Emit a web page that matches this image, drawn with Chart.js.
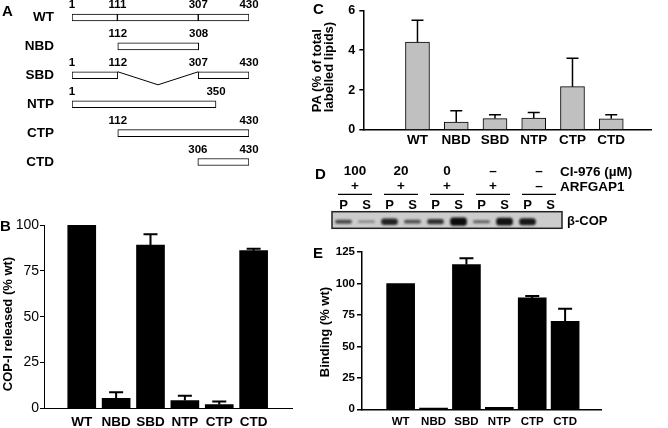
<!DOCTYPE html>
<html lang="en">
  <head>
    <meta charset="utf-8" />
    <title>ARFGAP1 domains</title>
    <style>
      body { margin: 0; background: #fff; }
      #fig {
        position: relative; width: 668px; height: 428px; overflow: hidden;
        font-family: "Liberation Sans", Arial, sans-serif; font-weight: bold; color: #000;
      }
      canvas { position: absolute; }
      .letter { position: absolute; font-size: 15px; line-height: 1; }
      .ytitle {
        position: absolute; font-size: 13px; line-height: 1; white-space: nowrap;
        transform: translate(-50%, -50%) rotate(-90deg);
      }
      .txt { position: absolute; font-size: 13.5px; line-height: 1; white-space: nowrap; transform: translateY(-50%); }
    </style>
  </head>
  <body>
    <div id="fig">
      <canvas id="cA" width="270" height="180" style="left:0px;top:0px"></canvas>
      <canvas id="cB" width="298" height="213" style="left:0px;top:215px"></canvas>
      <canvas id="cC" width="378" height="155" style="left:290px;top:0px"></canvas>
      <canvas id="cD" width="368" height="85" style="left:300px;top:155px"></canvas>
      <canvas id="cE" width="368" height="188" style="left:300px;top:240px"></canvas>

      <div class="letter" style="left:2px;top:3px">A</div>
      <div class="letter" style="left:0px;top:218px">B</div>
      <div class="letter" style="left:313px;top:1px">C</div>
      <div class="letter" style="left:315px;top:166px">D</div>
      <div class="letter" style="left:313px;top:245px">E</div>

      <div class="ytitle" style="left:7px;top:324px">COP-I released (% wt)</div>
      <div class="ytitle" style="left:322.5px;top:66.7px;line-height:11.7px;text-align:left">PA (% of total<br>labelled lipids)</div>
      <div class="ytitle" style="left:324px;top:332px">Binding (% wt)</div>

      <div class="txt" style="left:560px;top:172px">CI-976 (µM)</div>
      <div class="txt" style="left:560px;top:187px">ARFGAP1</div>
      <div class="txt" style="left:567px;top:220px;font-size:13px">β-COP</div>
    </div>

    <script src="https://cdn.jsdelivr.net/npm/chart.js/dist/chart.umd.min.js"></script>
    <script>
      // ---- data ----
      const constructs = ["WT", "NBD", "SBD", "NTP", "CTP", "CTD"];

      // A: residue ranges of each construct (up to three pieces per row)
      const piece1 = [[1, 111], [112, 308], [1, 112], [1, 350], [112, 430], [306, 430]];
      const piece2 = [[111, 307], null, [307, 430], null, null, null];
      const piece3 = [[307, 430], null, null, null, null, null];

      // B: COP-I released (% wt)
      const released = [100, 5.5, 89, 4.2, 2, 86];
      const releasedErr = [0, 3.3, 6, 2.6, 1.7, 1];

      // C: PA (% of total labelled lipids)
      const paLipid = [4.4, 0.4, 0.57, 0.6, 2.17, 0.56];
      const paLipidErr = [1.1, 0.57, 0.2, 0.28, 1.43, 0.2];

      // D: blot lanes
      const lanes = ["P", "S", "P", "S", "P", "S", "P", "S", "P", "S"];
      const bandStrength = [0.6, 0.25, 0.85, 0.55, 0.75, 1.0, 0.45, 0.95, 0.9, 0];
      const ci976 = ["100", "20", "0", "–", "–"];
      const arfgap1 = ["+", "+", "+", "+", "–"];

      // E: Binding (% wt)
      const binding = [100, 1, 115, 1.5, 88.5, 70];
      const bindingErr = [0, 0, 5, 0, 1.5, 10];

      const FONT = "'Liberation Sans', Arial, sans-serif";
      Chart.defaults.font.family = FONT;
      Chart.defaults.color = "#000";
      Chart.defaults.animation = false;
      Chart.defaults.responsive = false;
      Chart.defaults.plugins.legend.display = false;
      Chart.defaults.plugins.tooltip.enabled = false;

      // error bars, upward only
      const errorBars = {
        id: "errorBars",
        afterDatasetsDraw(chart, args, opts) {
          const ds = chart.data.datasets[0];
          const meta = chart.getDatasetMeta(0);
          const y = chart.scales.y;
          const ctx = chart.ctx;
          ctx.save();
          ctx.strokeStyle = "#000";
          ctx.lineWidth = opts.width;
          meta.data.forEach((bar, i) => {
            const e = ds.errors[i];
            if (!e) return;
            const top = y.getPixelForValue(ds.data[i].y + e);
            ctx.beginPath();
            ctx.moveTo(bar.x, bar.y);
            ctx.lineTo(bar.x, top);
            ctx.moveTo(bar.x - opts.cap / 2, top);
            ctx.lineTo(bar.x + opts.cap / 2, top);
            ctx.stroke();
          });
          ctx.restore();
        },
      };

      function barChart(id, values, errors, o) {
        return new Chart(document.getElementById(id), {
          type: "bar",
          data: {
            datasets: [{
              data: values.map((v, i) => ({ x: i, y: v })),
              errors: errors,
              backgroundColor: o.fill,
              borderColor: "#000",
              borderWidth: o.border,
              barThickness: o.bar,
            }],
          },
          options: {
            layout: { padding: { top: o.top, right: o.right, left: 0, bottom: 0 } },
            scales: {
              x: {
                type: "linear",
                min: o.xmin,
                max: o.xmax,
                afterBuildTicks: (s) => { s.ticks = constructs.map((c, i) => ({ value: i })); },
                afterFit: (s) => { s.height = o.xh; },
                grid: { display: false, drawTicks: false },
                border: { color: "#000", width: o.axis },
                ticks: {
                  autoSkip: false, maxRotation: 0, padding: o.xpad,
                  font: { size: o.xfont, weight: "bold", lineHeight: 1 },
                  callback: (v) => constructs[v],
                },
              },
              y: {
                min: 0,
                max: o.ymax,
                afterFit: (s) => { s.width = o.yw; },
                grid: { drawOnChartArea: false, tickLength: o.tl, color: "#000", lineWidth: o.axis },
                border: { color: "#000", width: o.axis },
                ticks: {
                  stepSize: o.step, padding: o.ypad,
                  font: { size: o.yfont, weight: o.yweight, lineHeight: 1 },
                },
              },
            },
            plugins: { errorBars: { width: o.ew, cap: o.cap } },
          },
          plugins: [errorBars],
        });
      }

      // B
      barChart("cB", released, releasedErr, {
        fill: "#000", border: 0, bar: 28, top: 10, right: 6, axis: 1,
        xmin: -0.497, xmax: 5.515, xh: 19.7, xpad: 7, xfont: 13.5,
        ymax: 100, step: 25, yw: 44, tl: 4, ypad: 1, yfont: 14, yweight: "normal",
        ew: 2, cap: 14,
      });

      // C
      barChart("cC", paLipid, paLipidErr, {
        fill: "#c0c0c0", border: 1, bar: 24, top: 6.7, right: 16.3, axis: 1.5,
        xmin: -0.778, xmax: 5.424, xh: 25, xpad: 3.5, xfont: 13.5,
        ymax: 6, step: 2, yw: 73.3, tl: 4, ypad: 4, yfont: 12.5, yweight: "bold",
        ew: 1.5, cap: 12,
      });

      // E
      barChart("cE", binding, bindingErr, {
        fill: "#000", border: 0, bar: 28, top: 12, right: 66.3, axis: 1.5,
        xmin: -0.5675, xmax: 5.505, xh: 18.7, xpad: 6.5, xfont: 11.5,
        ymax: 125, step: 25, yw: 62, tl: 5, ypad: 2, yfont: 11.5, yweight: "bold",
        ew: 2, cap: 14,
      });

      // A: construct map as floating horizontal bars
      const mapLabels = {
        id: "mapLabels",
        afterDraw(chart) {
          const ctx = chart.ctx;
          const x = chart.scales.x, y = chart.scales.y;
          ctx.save();
          ctx.fillStyle = "#000";
          ctx.strokeStyle = "#000";
          ctx.lineWidth = 1;
          ctx.textBaseline = "middle";
          constructs.forEach((name, i) => {
            const cy = y.getPixelForValue(i);
            ctx.font = "bold 13.5px " + FONT;
            ctx.textAlign = "right";
            ctx.fillText(name, 54, cy);
            const ends = [];
            [piece1, piece2, piece3].forEach((p) => {
              if (p[i]) p[i].forEach((v) => { if (!ends.includes(v)) ends.push(v); });
            });
            ctx.font = "bold 11.5px " + FONT;
            ctx.textAlign = "center";
            ends.forEach((v) => ctx.fillText(String(v), x.getPixelForValue(v), cy - 12.5));
            // deleted middle part drawn as a V
            if (piece2[i] && piece2[i][0] > piece1[i][1]) {
              const a = x.getPixelForValue(piece1[i][1]);
              const b = x.getPixelForValue(piece2[i][0]);
              ctx.beginPath();
              ctx.moveTo(a, cy - 3.5);
              ctx.lineTo((a + b) / 2, cy + 9.5);
              ctx.lineTo(b, cy - 3.5);
              ctx.stroke();
            }
          });
          ctx.restore();
        },
      };

      const pieceSet = (p) => ({
        data: p,
        backgroundColor: "#fff",
        borderColor: "#000",
        borderWidth: 1,
        borderSkipped: false,
        barThickness: 7,
        grouped: false,
      });

      new Chart(document.getElementById("cA"), {
        type: "bar",
        data: { labels: constructs, datasets: [pieceSet(piece1), pieceSet(piece2), pieceSet(piece3)] },
        options: {
          indexAxis: "y",
          layout: { padding: { left: 72, right: 21, top: 3, bottom: 3.5 } },
          scales: {
            x: { type: "linear", min: 1, max: 430, display: false },
            y: { display: false },
          },
        },
        plugins: [mapLabels],
      });

      // D: blot
      const blot = {
        id: "blot",
        beforeDatasetsDraw(chart) {
          const { ctx, chartArea: a } = chart;
          ctx.save();
          ctx.fillStyle = "#cccccc";
          ctx.fillRect(a.left, a.top, a.width, a.height);
          ctx.filter = "blur(0.8px)";
        },
        afterDatasetsDraw(chart) {
          const { ctx, chartArea: a } = chart;
          ctx.restore();
          ctx.save();
          ctx.strokeStyle = "#222";
          ctx.lineWidth = 1.5;
          ctx.strokeRect(a.left, a.top, a.width, a.height);
          ctx.restore();
        },
        afterDraw(chart) {
          const ctx = chart.ctx;
          const x = chart.scales.x;
          ctx.save();
          ctx.fillStyle = "#000";
          ctx.strokeStyle = "#000";
          ctx.textAlign = "center";
          ctx.textBaseline = "middle";
          ctx.font = "bold 13px " + FONT;
          lanes.forEach((l, i) => ctx.fillText(l, x.getPixelForValue(i), 50));
          ctx.font = "bold 13.5px " + FONT;
          ci976.forEach((t, p) => {
            const c = (x.getPixelForValue(2 * p) + x.getPixelForValue(2 * p + 1)) / 2;
            ctx.fillText(t, c, 16.7);
            ctx.fillText(arfgap1[p], c, 31.7);
            ctx.lineWidth = 1.3;
            ctx.beginPath();
            ctx.moveTo(c - 17, 39.3);
            ctx.lineTo(c + 17, 39.3);
            ctx.stroke();
          });
          ctx.restore();
        },
      };

      new Chart(document.getElementById("cD"), {
        type: "bar",
        data: {
          labels: lanes,
          datasets: [{
            data: bandStrength.map((b) => {
              if (!b) return null;
              const h = 0.06 + 0.4 * b * b;
              return [-0.2 - h, -0.2 + h];
            }),
            backgroundColor: (c) => "rgba(10,10,10," + (0.2 + 0.8 * bandStrength[c.dataIndex]) + ")",
            borderWidth: 0,
            borderSkipped: false,
            borderRadius: 3,
            barThickness: 16,
          }],
        },
        options: {
          layout: { padding: { left: 32, right: 106, top: 56.7, bottom: 11.7 } },
          scales: {
            x: { display: false },
            y: { min: -1, max: 1, display: false },
          },
        },
        plugins: [blot],
      });
    </script>
  </body>
</html>
